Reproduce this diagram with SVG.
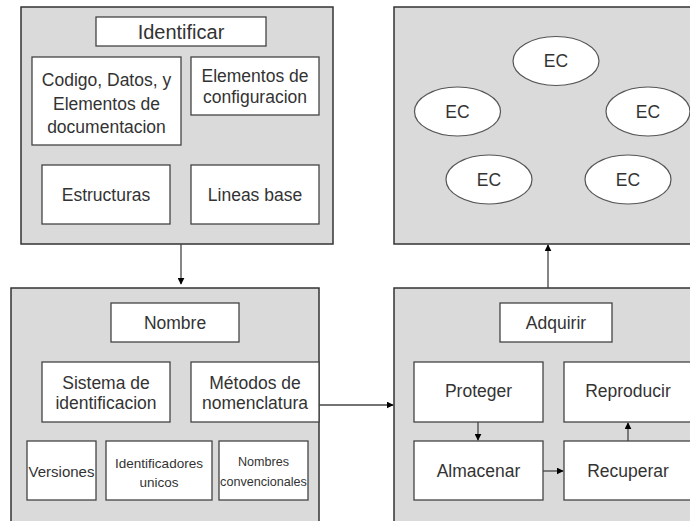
<svg xmlns="http://www.w3.org/2000/svg" width="690" height="521" viewBox="0 0 690 521">
  <defs>
    <style>
      .panel { fill: #dadada; stroke: #333333; stroke-width: 1.5; }
      .box { fill: #ffffff; stroke: #444444; stroke-width: 1.3; }
      .ec { fill: #ffffff; stroke: #555555; stroke-width: 1.2; }
      text { font-family: "Liberation Sans", Arial, sans-serif; fill: #333333; text-anchor: middle; dominant-baseline: central; }
      .t { font-size: 17.5px; }
      .big { font-size: 20px; }
      .sm { font-size: 15px; }
      .xs { font-size: 13.5px; }
      .xxs { font-size: 12.6px; }
      .link { stroke: #444444; stroke-width: 1.3; fill: none; marker-end: url(#arrow); }
    </style>
    <marker id="arrow" viewBox="0 0 10 10" refX="9" refY="5" markerWidth="7" markerHeight="7" markerUnits="userSpaceOnUse" orient="auto">
      <path d="M0,0 L10,5 L0,10 Z" fill="#000000"/>
    </marker>
  </defs>

  <!-- Identificar panel -->
  <g id="identificar">
    <rect class="panel" x="21" y="7" width="312" height="237"/>
    <rect class="box" x="96" y="17" width="170" height="29"/>
    <text class="big" x="181" y="31.5">Identificar</text>
    <rect class="box" x="32" y="57" width="149" height="88"/>
    <text class="t" x="106.5" y="80">Codigo, Datos, y</text>
    <text class="t" x="106.5" y="103.5">Elementos de</text>
    <text class="t" x="106.5" y="127">documentacion</text>
    <rect class="box" x="191" y="57" width="128" height="58"/>
    <text class="t" x="255" y="76">Elementos de</text>
    <text class="t" x="255" y="97">configuracion</text>
    <rect class="box" x="42" y="165" width="128" height="59"/>
    <text class="t" x="106" y="194.5">Estructuras</text>
    <rect class="box" x="191" y="165" width="128" height="59"/>
    <text class="t" x="255" y="194.5">Lineas base</text>
  </g>

  <!-- Elementos de configuracion panel -->
  <g id="elementos">
    <rect class="panel" x="394" y="7" width="300" height="237"/>
    <ellipse class="ec" cx="556" cy="61" rx="43" ry="24.5"/>
    <text class="t" x="556" y="61">EC</text>
    <ellipse class="ec" cx="457.5" cy="111.5" rx="43" ry="24.5"/>
    <text class="t" x="457.5" y="111.5">EC</text>
    <ellipse class="ec" cx="648" cy="111.5" rx="42" ry="24.5"/>
    <text class="t" x="648" y="111.5">EC</text>
    <ellipse class="ec" cx="489" cy="179.5" rx="43" ry="24.5"/>
    <text class="t" x="489" y="179.5">EC</text>
    <ellipse class="ec" cx="628" cy="179.5" rx="43" ry="24.5"/>
    <text class="t" x="628" y="179.5">EC</text>
  </g>

  <!-- Nombre panel -->
  <g id="nombre">
    <rect class="panel" x="11" y="288" width="308" height="240"/>
    <rect class="box" x="111" y="303" width="128" height="39"/>
    <text class="t" x="175" y="322.5">Nombre</text>
    <rect class="box" x="42" y="362" width="128" height="60"/>
    <text class="t" x="106" y="383">Sistema de</text>
    <text class="t" x="106" y="403">identificacion</text>
    <rect class="box" x="191" y="362" width="128" height="60"/>
    <text class="t" x="255" y="383">Métodos de</text>
    <text class="t" x="255" y="403">nomenclatura</text>
    <rect class="box" x="27" y="441" width="69" height="59"/>
    <text class="sm" x="61.5" y="471">Versiones</text>
    <rect class="box" x="106" y="441" width="106" height="59"/>
    <text class="xs" x="159" y="463">Identificadores</text>
    <text class="xs" x="159" y="482">unicos</text>
    <rect class="box" x="219" y="441" width="89" height="59"/>
    <text class="xxs" x="263.5" y="462">Nombres</text>
    <text class="xxs" x="263.5" y="482">convencionales</text>
  </g>

  <!-- Adquirir panel -->
  <g id="adquirir">
    <rect class="panel" x="394" y="288" width="300" height="240"/>
    <rect class="box" x="500" y="303" width="112" height="39"/>
    <text class="t" x="556" y="322.5">Adquirir</text>
    <rect class="box" x="414" y="362" width="129" height="60"/>
    <text class="t" x="478.5" y="391">Proteger</text>
    <rect class="box" x="564" y="362" width="128" height="60"/>
    <text class="t" x="628" y="391">Reproducir</text>
    <rect class="box" x="414" y="441" width="129" height="59"/>
    <text class="t" x="478.5" y="471">Almacenar</text>
    <rect class="box" x="564" y="441" width="128" height="59"/>
    <text class="t" x="628" y="471">Recuperar</text>
  </g>

  <!-- Connectors -->
  <g id="connectors">
    <path class="link" d="M181,244 L181,284"/>
    <path class="link" d="M319,405 L393,405"/>
    <path class="link" d="M548,288 L548,245"/>
    <path class="link" d="M478,422 L478,440"/>
    <path class="link" d="M543,471 L563,471"/>
    <path class="link" d="M628,441 L628,423"/>
  </g>
</svg>
